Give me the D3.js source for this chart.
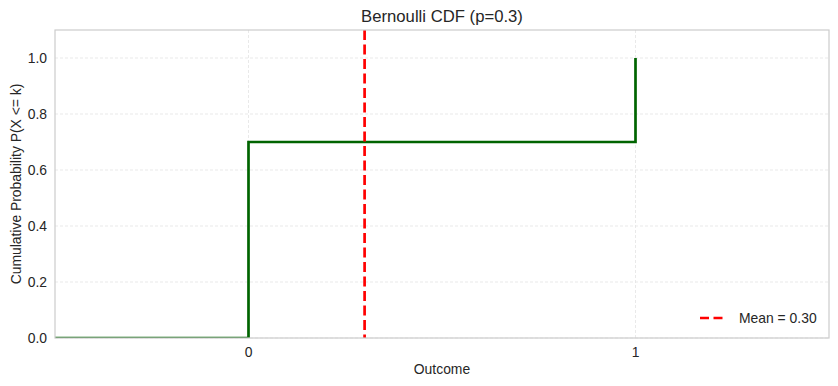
<!DOCTYPE html>
<html>
<head>
<meta charset="utf-8">
<script src="https://cdn.jsdelivr.net/npm/d3@7"></script>
<style>
  body { margin: 0; background: #fff; }
  svg { font-family: "Liberation Sans", Arial, sans-serif; }
</style>
</head>
<body>
<svg id="chart" width="838" height="386"></svg>
<script>
// CDF step points (where='post')
const outcomes = [-1, 0, 1]
const cdfValues = [0, 0.7, 1.0]
const meanValue = 0.3
const xTicks = [0, 1]
const yTicks = [0, 0.2, 0.4, 0.6, 0.8, 1.0]

const width = 838, height = 386
const margin = { top: 30, right: 9, bottom: 48, left: 55 }
const iw = width - margin.left - margin.right
const ih = height - margin.top - margin.bottom

const svg = d3.select('#chart')
const g = svg.append('g').attr('transform', `translate(${margin.left},${margin.top})`)

const x = d3.scaleLinear().domain([-0.5, 1.5]).range([0, iw])
const y = d3.scaleLinear().domain([0, 1.1]).range([ih, 0])

g.append('clipPath').attr('id', 'clip')
  .append('rect').attr('width', iw).attr('height', ih)

// grid
g.append('g').selectAll('line.gx').data(xTicks).enter().append('line')
  .attr('x1', d => x(d)).attr('x2', d => x(d))
  .attr('y1', 0).attr('y2', ih)
  .attr('stroke', '#e3e3e3').attr('stroke-width', 0.8).attr('stroke-dasharray', '3,2')
g.append('g').selectAll('line.gy').data(yTicks).enter().append('line')
  .attr('y1', d => y(d)).attr('y2', d => y(d))
  .attr('x1', 0).attr('x2', iw)
  .attr('stroke', '#e3e3e3').attr('stroke-width', 0.8).attr('stroke-dasharray', '3,2')

// step line
const line = d3.line()
  .x(d => x(d[0])).y(d => y(d[1]))
  .curve(d3.curveStepAfter)

g.append('path')
  .datum(outcomes.map((o, i) => [o, cdfValues[i]]))
  .attr('clip-path', 'url(#clip)')
  .attr('fill', 'none')
  .attr('stroke', '#006400')
  .attr('stroke-width', 2.7)
  .attr('d', line)

// mean line
g.append('line')
  .attr('clip-path', 'url(#clip)')
  .attr('x1', x(meanValue)).attr('x2', x(meanValue))
  .attr('y1', 0).attr('y2', ih)
  .attr('stroke', '#ff0000').attr('stroke-width', 2.7)
  .attr('stroke-dasharray', '10,4.5')

// spines
g.append('rect')
  .attr('width', iw).attr('height', ih)
  .attr('fill', 'none').attr('stroke', '#cccccc').attr('stroke-width', 1.2)

// tick labels
g.append('g').selectAll('text').data(xTicks).enter().append('text')
  .attr('x', d => x(d)).attr('y', ih + 19)
  .attr('text-anchor', 'middle')
  .style('font-size', '13.9px').style('fill', '#262626')
  .text(d => d)

g.append('g').selectAll('text').data(yTicks).enter().append('text')
  .attr('x', -8).attr('y', d => y(d)).attr('dy', '0.35em')
  .attr('text-anchor', 'end')
  .style('font-size', '13.9px').style('fill', '#262626')
  .text(d => d.toFixed(1))

// labels
svg.append('text')
  .attr('x', margin.left + iw / 2).attr('y', 22)
  .attr('text-anchor', 'middle')
  .style('font-size', '16.7px').style('fill', '#262626')
  .text('Bernoulli CDF (p=0.3)')

svg.append('text')
  .attr('x', margin.left + iw / 2).attr('y', 374)
  .attr('text-anchor', 'middle')
  .style('font-size', '13.9px').style('fill', '#262626')
  .text('Outcome')

svg.append('text')
  .attr('transform', `translate(21,${margin.top + ih / 2}) rotate(-90)`)
  .attr('text-anchor', 'middle')
  .style('font-size', '13.9px').style('fill', '#262626')
  .text('Cumulative Probability P(X <= k)')

// legend
const lg = g.append('g').attr('transform', `translate(${iw - 129},${ih - 20})`)
lg.append('line')
  .attr('x1', 0).attr('x2', 23).attr('y1', 0).attr('y2', 0)
  .attr('stroke', '#ff0000').attr('stroke-width', 2.7)
  .attr('stroke-dasharray', '9,4.5')
lg.append('text')
  .attr('x', 39).attr('y', 0).attr('dy', '0.35em')
  .style('font-size', '13.9px').style('fill', '#262626')
  .text('Mean = 0.30')
</script>
</body>
</html>
